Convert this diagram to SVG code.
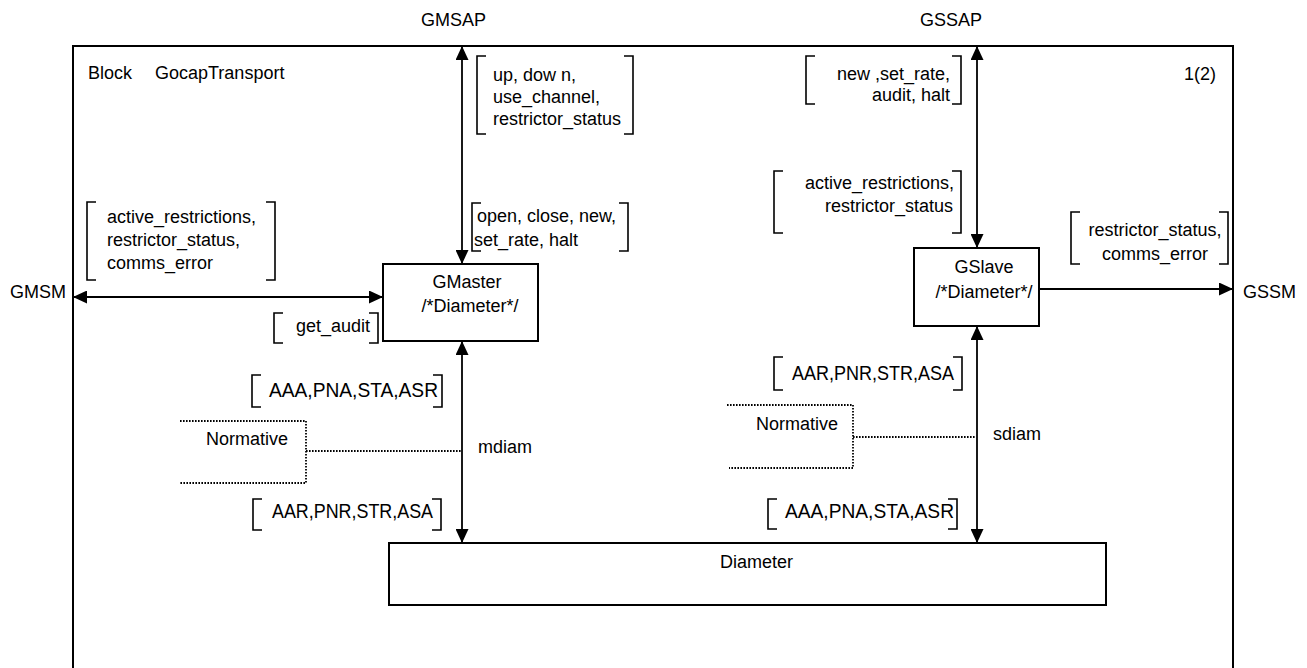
<svg xmlns="http://www.w3.org/2000/svg" width="1307" height="668" viewBox="0 0 1307 668">
  <style>
    text { font-family: "Liberation Sans", Arial, sans-serif; font-size: 18px; fill: #000; }
    .sig { font-size: 19.5px; }
    .box { fill: #fff; stroke: #000; stroke-width: 2; }
    .frame { fill: none; stroke: #000; stroke-width: 2; }
    .br { fill: none; stroke: #000; stroke-width: 1.6; }
    .ch { fill: none; stroke: #000; stroke-width: 1.8; }
    .dot { fill: none; stroke: #000; stroke-width: 1.8; stroke-dasharray: 1.6 1.4; }
    .mid { text-anchor: middle; }
    .end { text-anchor: end; }
  </style>
  <defs>
    <marker id="ah" viewBox="0 0 14 13" refX="14" refY="6.5" markerWidth="14" markerHeight="13" markerUnits="userSpaceOnUse" orient="auto-start-reverse">
      <path d="M0,0 L14,6.5 L0,13 Z" fill="#000"/>
    </marker>
  </defs>

  <rect width="1307" height="668" fill="#fff"/>

  <!-- block frame (open at the bottom edge of the page) -->
  <g id="frame">
    <path class="frame" d="M73,668 V46 H1233 V668"/>
    <text x="88" y="79">Block</text>
    <text x="155" y="79">GocapTransport</text>
    <text x="1184" y="80">1(2)</text>
  </g>

  <!-- environment gates -->
  <g id="gates">
    <text x="421" y="26">GMSAP</text>
    <text x="920" y="26">GSSAP</text>
    <text x="10" y="298">GMSM</text>
    <text x="1243" y="298">GSSM</text>
  </g>

  <!-- channels -->
  <g id="connectors">
    <line class="ch" x1="462" y1="46" x2="462" y2="264" marker-start="url(#ah)" marker-end="url(#ah)"/>
    <line class="ch" x1="977" y1="46" x2="977" y2="248" marker-start="url(#ah)" marker-end="url(#ah)"/>
    <line class="ch" x1="73" y1="297" x2="383" y2="297" marker-start="url(#ah)" marker-end="url(#ah)"/>
    <line class="ch" x1="1039" y1="289" x2="1233" y2="289" marker-end="url(#ah)"/>
    <line class="ch" x1="462" y1="341" x2="462" y2="543" marker-start="url(#ah)" marker-end="url(#ah)"/>
    <line class="ch" x1="977" y1="326" x2="977" y2="543" marker-start="url(#ah)" marker-end="url(#ah)"/>
    <text x="478" y="453">mdiam</text>
    <text x="993" y="440">sdiam</text>
  </g>

  <!-- signal lists -->
  <g id="signals">
    <path class="br" d="M96,202 H87 V280 H96 M266,202 H275 V280 H266"/>
    <text x="107" y="223">active_restrictions,</text>
    <text x="107" y="246">restrictor_status,</text>
    <text x="107" y="269">comms_error</text>

    <path class="br" d="M486,56 H477 V134 H486 M624,56 H633 V134 H624"/>
    <text x="493" y="81">up, dow n,</text>
    <text x="493" y="103">use_channel,</text>
    <text x="493" y="125">restrictor_status</text>

    <path class="br" d="M815,56 H806 V104 H815 M952,56 H961 V104 H952"/>
    <text class="end" x="950" y="80">new ,set_rate,</text>
    <text class="end" x="950" y="101">audit, halt</text>

    <path class="br" d="M783,171 H774 V233 H783 M952,171 H961 V233 H952"/>
    <text class="end" x="954" y="189">active_restrictions,</text>
    <text class="end" x="953" y="212">restrictor_status</text>

    <path class="br" d="M481,203 H472 V251 H481 M619,203 H628 V251 H619"/>
    <text x="477" y="222">open, close, new,</text>
    <text x="474" y="246">set_rate, halt</text>

    <path class="br" d="M283,313 H274 V343 H283 M369,313 H378 V343 H369"/>
    <text x="296" y="332">get_audit</text>

    <path class="br" d="M1080,212 H1071 V264 H1080 M1219,212 H1228 V264 H1219"/>
    <text class="mid" x="1155" y="236">restrictor_status,</text>
    <text class="mid" x="1155" y="260">comms_error</text>

    <path class="br" d="M261,375 H252 V407 H261 M433,375 H442 V407 H433"/>
    <text class="sig" x="269" y="397" textLength="169" lengthAdjust="spacingAndGlyphs">AAA,PNA,STA,ASR</text>

    <path class="br" d="M783,357 H774 V390 H783 M953,357 H962 V390 H953"/>
    <text class="sig" x="792" y="380" textLength="162" lengthAdjust="spacingAndGlyphs">AAR,PNR,STR,ASA</text>

    <path class="br" d="M262,499 H253 V530 H262 M432,499 H441 V530 H432"/>
    <text class="sig" x="272" y="518" textLength="161" lengthAdjust="spacingAndGlyphs">AAR,PNR,STR,ASA</text>

    <path class="br" d="M777,499 H768 V529 H777 M948,499 H957 V529 H948"/>
    <text class="sig" x="785" y="518" textLength="169" lengthAdjust="spacingAndGlyphs">AAA,PNA,STA,ASR</text>
  </g>

  <!-- processes -->
  <g id="gmaster">
    <rect class="box" x="383" y="264" width="155" height="77"/>
    <text class="mid" x="467" y="288">GMaster</text>
    <text class="mid" x="470" y="312">/*Diameter*/</text>
  </g>

  <g id="gslave">
    <rect class="box" x="914" y="248" width="125" height="78"/>
    <text class="mid" x="984" y="273">GSlave</text>
    <text class="mid" x="984" y="298">/*Diameter*/</text>
  </g>

  <g id="diameter">
    <rect class="box" x="389" y="543" width="717" height="62"/>
    <text x="720" y="568">Diameter</text>
  </g>

  <!-- comment symbols -->
  <g id="normative-m">
    <path class="dot" d="M180,421 H306 V483 H180"/>
    <line class="dot" x1="306" y1="451" x2="461" y2="451"/>
    <text x="206" y="445">Normative</text>
  </g>

  <g id="normative-s">
    <path class="dot" d="M727,405 H853 V468 H729"/>
    <line class="dot" x1="853" y1="437" x2="976" y2="437"/>
    <text x="756" y="430">Normative</text>
  </g>
</svg>
